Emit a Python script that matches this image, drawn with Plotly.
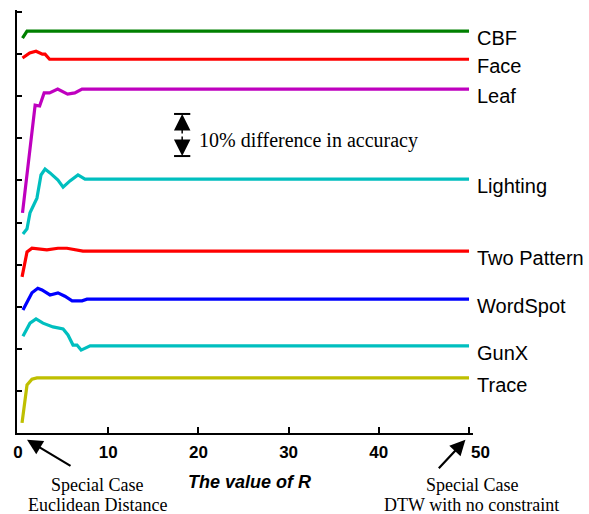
import plotly.graph_objects as go

# Warping-window size R (percent of series length) and the vertically
# stacked accuracy curves of each dataset (one y tick = 10% accuracy).
cbf_r = [0.5, 1.0, 50]
cbf_y = [93.8, 95.5, 95.5]

face_r = [0.5, 1.3, 2.0, 2.7, 3.0, 3.5, 50]
face_y = [89.1, 90.3, 90.7, 90.0, 90.0, 88.8, 88.8]

leaf_r = [0.5, 1.6, 1.9, 2.4, 2.9, 3.5, 4.4, 5.5, 6.3, 7.1, 50]
leaf_y = [52.3, 72.2, 77.9, 77.7, 80.8, 80.8, 81.7, 80.5, 80.8, 81.7, 81.7]

lighting_r = [0.55, 1.0, 1.33, 2.1, 2.55, 3.0, 3.55, 4.43, 5.0, 5.76, 6.65, 7.43, 50]
lighting_y = [47.3, 48.5, 52.3, 55.8, 61.3, 62.7, 61.8, 60.1, 58.4, 59.9, 61.3, 60.3, 60.3]

twopattern_r = [0.45, 1.0, 1.55, 3.2, 4.43, 5.43, 7.2, 50]
twopattern_y = [37.1, 43.0, 43.9, 43.5, 43.9, 43.9, 43.2, 43.2]

wordspot_r = [0.55, 1.55, 2.2, 2.66, 3.55, 4.43, 5.2, 6.0, 7.1, 7.65, 50]
wordspot_y = [29.2, 33.3, 34.4, 34.0, 32.8, 33.3, 32.5, 31.4, 31.4, 31.8, 31.8]

gunx_r = [0.55, 1.33, 2.0, 2.77, 3.88, 5.0, 5.54, 6.1, 6.54, 7.0, 8.0, 50]
gunx_y = [23.0, 26.1, 27.1, 26.1, 25.2, 24.7, 23.3, 20.9, 20.9, 19.7, 20.7, 20.7]

trace_r = [0.45, 1.0, 1.55, 2.1, 50]
trace_y = [2.4, 11.4, 12.8, 13.1, 13.1]

names = ["CBF", "Face", "Leaf", "Lighting", "Two Pattern", "WordSpot", "GunX", "Trace"]
series_r = [cbf_r, face_r, leaf_r, lighting_r, twopattern_r, wordspot_r, gunx_r, trace_r]
series_y = [cbf_y, face_y, leaf_y, lighting_y, twopattern_y, wordspot_y, gunx_y, trace_y]
colors = ["#008000", "#FF0000", "#BF00BF", "#00BFBF", "#FF0000", "#0000FF", "#00BFBF", "#BFBF00"]

x_ticks = [0, 10, 20, 30, 40, 50]
x_tick_text = ["0", "10", "20", "30", "40", ""]   # "50" is set beside its arrow below
y_ticks = list(range(0, 101, 10))

# scale bar: one y tick spans 10% accuracy
bar_r = 18.2
bar_top = 75.8
bar_span = 10

fig = go.Figure()
for name, r, y, c in zip(names, series_r, series_y, colors):
    fig.add_trace(go.Scatter(x=r, y=y, mode="lines", name=name,
                             line=dict(color=c, width=3.2), showlegend=False))

sans = "Liberation Sans, Arial"
serif_family = "Liberation Serif, Times New Roman"

annotations = []
for name, y in zip(names, series_y):
    annotations.append(dict(x=1.0, y=y[-1], xref="paper", yref="y", text=name,
                            showarrow=False, xanchor="left", yanchor="middle",
                            xshift=2, yshift=-7,
                            font=dict(family=sans, size=20, color="black")))

# double-headed scale arrow
bar_mid = bar_top - bar_span / 2
for end in (bar_top, bar_top - bar_span):
    annotations.append(dict(x=bar_r, y=end, xref="x", yref="y", ax=bar_r, ay=bar_mid,
                            axref="x", ayref="y", text="", showarrow=True,
                            arrowhead=2, arrowsize=2.2, arrowwidth=1.5,
                            arrowcolor="black", standoff=0))
annotations.append(dict(x=19.8, y=bar_mid, xref="x", yref="y",
                        text="10% difference in accuracy", showarrow=False,
                        xanchor="left", yanchor="middle", yshift=-5,
                        font=dict(family=serif_family, size=20, color="black")))

# special-case notes under the axis
annotations.append(dict(x=1.0, y=-0.016, xref="x", yref="paper", text="",
                        showarrow=True, ax=45, ay=27, arrowhead=2, arrowsize=1.4,
                        arrowwidth=2.2, arrowcolor="black", standoff=0))
annotations.append(dict(x=49.6, y=-0.016, xref="x", yref="paper", text="",
                        showarrow=True, ax=-28, ay=30, arrowhead=2, arrowsize=1.4,
                        arrowwidth=2.2, arrowcolor="black", standoff=0))
note_font = dict(family=serif_family, size=18, color="black")
for r, lines in ((8.8, ["Special Case", "Euclidean Distance"]),
                 (50.3, ["Special Case", "DTW with no constraint"])):
    for i, line in enumerate(lines):
        annotations.append(dict(x=r, y=-0.123 - i * 0.0473, xref="x", yref="paper",
                                text=line, showarrow=False, xanchor="center",
                                yanchor="middle", font=note_font))
annotations.append(dict(x=50, y=0, xref="x", yref="paper", text="<b>50</b>",
                        showarrow=False, xanchor="left", yanchor="middle",
                        xshift=0, yshift=-19,
                        font=dict(family=sans, size=17, color="black")))
annotations.append(dict(x=25.7, y=-0.116, xref="x", yref="paper",
                        text="<b><i>The value of R</i></b>", showarrow=False,
                        xanchor="center", yanchor="middle",
                        font=dict(family=sans, size=18, color="black")))

shapes = []
for end in (bar_top, bar_top - bar_span):
    shapes.append(dict(type="line", xref="x", yref="y", x0=bar_r - 0.9, x1=bar_r + 0.9,
                       y0=end, y1=end, line=dict(color="black", width=2)))

fig.update_layout(
    width=589, height=514,
    margin=dict(l=17, r=116, t=10, b=81),
    paper_bgcolor="white", plot_bgcolor="white",
    annotations=annotations, shapes=shapes,
    xaxis=dict(range=[-0.11, 50.44], tickvals=x_ticks, ticktext=x_tick_text,
               ticks="inside", ticklen=6, ticklabelstandoff=3,
               tickwidth=1.5, tickcolor="black", showline=True, linecolor="black",
               linewidth=2, showgrid=False, zeroline=False,
               tickfont=dict(family=sans, size=17, color="black", weight="bold")),
    yaxis=dict(range=[0, 100.5], tickvals=y_ticks, ticks="inside", ticklen=5,
               tickwidth=1.5, tickcolor="black", showline=True, linecolor="black",
               linewidth=2, showgrid=False, zeroline=False, showticklabels=False),
)

fig.write_html("out.html")
